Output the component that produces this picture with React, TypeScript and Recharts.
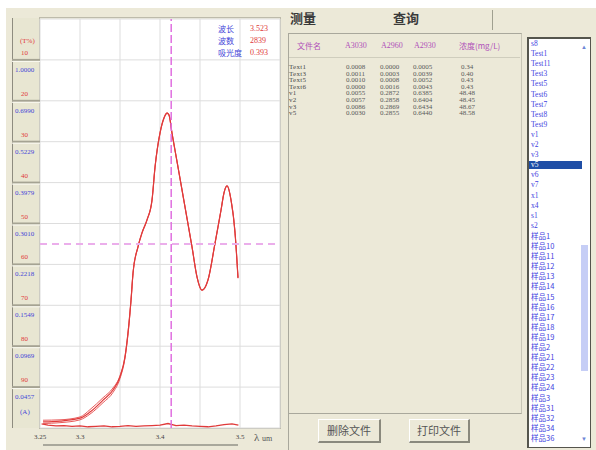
import React from "react";
import { CartesianGrid, Line, LineChart, ReferenceLine, XAxis, YAxis } from "recharts";

// wavelength (um) and transmittance (%)
const wlScan = [3.2538, 3.275, 3.3, 3.3125, 3.3288, 3.3413, 3.35, 3.3563, 3.3613, 3.3638, 3.3663, 3.3725, 3.3775, 3.3838, 3.39, 3.3938, 3.4, 3.405, 3.4088, 3.4113, 3.415, 3.4225, 3.4313, 3.44, 3.4463, 3.4525, 3.46, 3.4688, 3.4763, 3.48, 3.4838, 3.4888, 3.4938, 3.4975];
const tScan1 = [98.5, 98.3, 97.6, 96.1, 93.2, 90.7, 87.5, 82.6, 74.3, 68.7, 62.1, 55.7, 52.3, 49.1, 44.3, 36.2, 27.9, 24.2, 23.0, 23.5, 27.9, 36.2, 46.0, 55.7, 63.1, 66.3, 63.8, 54.8, 46.7, 42.5, 40.8, 44.3, 52.3, 63.3];
const tScan2 = [98.1, 98.0, 97.3, 95.5, 92.6, 90.2, 87.2, 82.4, 74.1, 68.6, 62.0, 55.8, 52.4, 49.2, 44.4, 36.3, 28.0, 24.3, 23.1, 23.6, 28.0, 36.3, 46.1, 55.8, 63.2, 66.4, 63.9, 54.9, 46.8, 42.6, 40.9, 44.4, 52.4, 63.4];
const tScan3 = [98.9, 98.7, 98.0, 96.6, 93.8, 91.3, 87.9, 82.8, 74.5, 68.8, 62.2, 55.6, 52.2, 49.0, 44.2, 36.1, 27.8, 24.1, 22.9, 23.4, 27.8, 36.1, 45.9, 55.6, 63.0, 66.2, 63.7, 54.7, 46.6, 42.4, 40.7, 44.2, 52.2, 63.2];

const wlBase = [3.252, 3.26, 3.27, 3.28, 3.29, 3.3, 3.31, 3.32, 3.33, 3.34, 3.35, 3.36, 3.37, 3.38, 3.39, 3.4, 3.41, 3.42, 3.43, 3.44, 3.45, 3.46, 3.47, 3.48, 3.49, 3.498];
const tBase = [99.0, 99.3, 99.5, 99.4, 99.6, 99.5, 99.7, 99.6, 99.5, 99.7, 99.6, 99.4, 99.6, 99.5, 99.4, 99.3, 98.9, 99.4, 99.3, 99.5, 99.6, 99.7, 99.5, 99.2, 99.0, 99.3];

const xTicks = [3.25, 3.3, 3.35, 3.4, 3.45, 3.5];
const xLabels = ["3.25", "3.3", "", "3.4", "", "3.5"];
const tTicks = [0, 10, 20, 30, 40, 50, 60, 70, 80, 90, 100];
const tLabels = ["", "10", "20", "30", "40", "50", "60", "70", "80", "90", ""];
const absLabels = ["", "1.0000", "0.6990", "0.5229", "0.3979", "0.3010", "0.2218", "0.1549", "0.0969", "0.0457", ""];

const cursorWl = 3.414;
const cursorT = 55;

const readoutNames = ["波长", "波数", "吸光度"];
const readoutValues = ["3.523", "2839", "0.393"];

const colHeaders = ["文件名", "A3030", "A2960", "A2930", "浓度(mg/L)"];
const fileNames = ["Text1", "Text3", "Text5", "Text6", "v1", "v2", "v3", "v5"];
const a3030 = ["0.0008", "0.0011", "0.0010", "0.0000", "0.0055", "0.0057", "0.0086", "0.0030"];
const a2960 = ["0.0000", "0.0003", "0.0008", "0.0016", "0.2872", "0.2858", "0.2869", "0.2855"];
const a2930 = ["0.0005", "0.0039", "0.0052", "0.0043", "0.6385", "0.6404", "0.6434", "0.6440"];
const conc = ["0.34", "0.40", "0.43", "0.43", "48.48", "48.45", "48.67", "48.58"];

const listItems = ["s8", "Test1", "Test11", "Test3", "Test5", "Test6", "Test7", "Test8", "Test9", "v1", "v2", "v3", "v5", "v6", "v7", "x1", "x4", "s1", "s2", "样品1", "样品10", "样品11", "样品12", "样品13", "样品14", "样品15", "样品16", "样品17", "样品18", "样品19", "样品2", "样品21", "样品22", "样品23", "样品24", "样品3", "样品31", "样品32", "样品34", "样品36"];
const selectedItem = "v5";

const zip = (wl: number[], t: number[]) => wl.map((um, i) => ({ um, t: t[i] }));
const scan1 = zip(wlScan, tScan1);
const scan2 = zip(wlScan, tScan2);
const scan3 = zip(wlScan, tScan3);
const base = zip(wlBase, tBase);

const BEIGE = "#ece9d8";
const RED = "#e03a3a";
const BLUE = "#4646d8";
const SERIF = "'Liberation Serif', serif";
const CJK = "'Noto Sans CJK SC', sans-serif";

function TTick(props: any) {
  const { y, payload } = props;
  const i = tTicks.indexOf(payload.value);
  return (
    <g fontFamily={SERIF} fontSize={7}>
      {i > 0 && i < tTicks.length - 1 && (
        <>
          <line x1={12} x2={40} y1={y} y2={y} stroke="#a5a393" strokeWidth={2} />
          <line x1={12} x2={40} y1={y + 1.5} y2={y + 1.5} stroke="#fbfaf2" strokeWidth={1} />
        </>
      )}
      {i === 0 && (
        <text x={20} y={y + 24} fill={RED}>(T%)</text>
      )}
      {tLabels[i] && (
        <text x={21} y={y - 5} fill={RED}>{tLabels[i]}</text>
      )}
      {absLabels[i] && (
        <text x={15} y={y + 12} fill={BLUE}>{absLabels[i]}</text>
      )}
      {i === tTicks.length - 1 && (
        <text x={20} y={y - 14} fill={BLUE}>(A)</text>
      )}
    </g>
  );
}

function WlTick(props: any) {
  const { x, y, payload } = props;
  const label = xLabels[xTicks.indexOf(payload.value)];
  if (!label) return null;
  return (
    <text x={x} y={y} dy={3} textAnchor="middle" fontFamily={SERIF} fontSize={7} fill="#444">
      {label}
    </text>
  );
}

function Spectrum() {
  return (
    <LineChart width={286} height={450} margin={{ top: 19, right: 6, bottom: 2, left: 12 }}>
      <CartesianGrid stroke="#dddddd" fill="#ffffff" />
      <XAxis
        type="number"
        dataKey="um"
        domain={[3.25, 3.55]}
        ticks={xTicks}
        allowDataOverflow
        height={20}
        axisLine={false}
        tickLine={false}
        tick={<WlTick />}
      />
      <YAxis
        type="number"
        dataKey="t"
        domain={[0, 100]}
        ticks={tTicks}
        reversed
        width={28}
        axisLine={false}
        tickLine={false}
        tick={<TTick />}
      />
      <Line data={base} dataKey="t" type="linear" stroke={RED} strokeWidth={1.3} dot={false} isAnimationActive={false} />
      <Line data={scan3} dataKey="t" type="monotone" stroke="#e85a5a" strokeWidth={1} dot={false} isAnimationActive={false} />
      <Line data={scan2} dataKey="t" type="monotone" stroke="#e85a5a" strokeWidth={1} dot={false} isAnimationActive={false} />
      <Line data={scan1} dataKey="t" type="monotone" stroke={RED} strokeWidth={1.2} dot={false} isAnimationActive={false} />
      <ReferenceLine x={cursorWl} stroke="#e070e0" strokeWidth={1.5} strokeDasharray="8 3" />
      <ReferenceLine y={cursorT} stroke="#ebaeeb" strokeWidth={2} strokeDasharray="7 5" />
    </LineChart>
  );
}

const abs = (left: number, top: number, extra: React.CSSProperties = {}): React.CSSProperties => ({
  position: "absolute",
  left,
  top,
  whiteSpace: "nowrap",
  ...extra,
});

export default function App() {
  const rowTop = 64;
  const rowH = 6.6;
  return (
    <div style={{ position: "absolute", left: 0, top: 0, width: 596, height: 450, background: "#ffffff", overflow: "hidden" }}>
      <div style={{ position: "absolute", left: 6, top: 8, right: 0, bottom: 0, background: BEIGE }} />
      {/* axis column */}
      <div style={{ position: "absolute", left: 12, top: 18, width: 28, height: 410, background: "#e8e6d2", borderLeft: "1px solid #8e8c80" }} />
      <div style={{ position: "absolute", left: 39, top: 17, width: 240, height: 410, border: "1px solid #bdbbab" }} />
      <div style={{ position: "absolute", left: 0, top: 0 }}>
        <Spectrum />
      </div>

      {/* cursor readout */}
      {readoutNames.map((n, i) => (
        <div key={n} style={abs(218, 24 + i * 12, { fontFamily: CJK, fontSize: 8, lineHeight: "10px", color: BLUE })}>{n}</div>
      ))}
      {readoutValues.map((v, i) => (
        <div key={v} style={abs(250, 24 + i * 12, { fontFamily: SERIF, fontSize: 8, lineHeight: "10px", color: RED })}>{v}</div>
      ))}

      <div style={abs(254, 430, { fontFamily: SERIF, fontSize: 11, lineHeight: "14px", color: "#555" })}>
        λ <span style={{ fontSize: 8 }}>um</span>
      </div>
      <div style={{ position: "absolute", left: 43, top: 444, width: 195, height: 2, background: "#a9a89c" }} />
      <div style={{ position: "absolute", left: 288, top: 33, width: 1, height: 417, background: "#a9a89c" }} />

      {/* tabs */}
      <div style={abs(290, 9, { fontFamily: CJK, fontSize: 13, fontWeight: 700, color: "#3a3a3a", lineHeight: "18px" })}>测量</div>
      <div style={abs(393, 9, { fontFamily: CJK, fontSize: 13, fontWeight: 700, color: "#3a3a3a", lineHeight: "18px" })}>查询</div>
      <div style={{ position: "absolute", left: 492, top: 10, width: 1, height: 20, background: "#a0a090" }} />

      {/* table */}
      <div style={{ position: "absolute", left: 288, top: 33, width: 233, height: 379, borderTop: "1px solid #a9a89c", borderRight: "1px solid #c8c6b6", borderBottom: "1px solid #a9a89c" }} />
      <div style={{ position: "absolute", left: 289, top: 57, width: 231, height: 1, background: "#cfcdbd" }} />
      {colHeaders.map((h, i) => (
        <div
          key={h}
          style={abs([297, 345, 381, 414, 459][i], 41, { fontFamily: i === 0 || i === 4 ? CJK : SERIF, fontSize: 8, color: "#b050b8", lineHeight: "10px" })}
        >
          {h}
        </div>
      ))}
      {fileNames.map((f, r) => (
        <React.Fragment key={f}>
          <div style={abs(289, rowTop + r * rowH, { fontFamily: SERIF, fontSize: 7, lineHeight: `${rowH}px`, color: "#4a4a4a", letterSpacing: 0.3 })}>{f}</div>
          {[a3030[r], a2960[r], a2930[r], conc[r]].map((v, c) => (
            <div
              key={c}
              style={abs([346, 380, 413, 455][c], rowTop + r * rowH, { width: 24, textAlign: c === 3 ? "center" : "left", fontFamily: SERIF, fontSize: 7, lineHeight: `${rowH}px`, color: "#5a5a5a" })}
            >
              {v}
            </div>
          ))}
        </React.Fragment>
      ))}

      {/* buttons */}
      {["删除文件", "打印文件"].map((b, i) => (
        <div
          key={b}
          style={{
            position: "absolute",
            left: i === 0 ? 318 : 409,
            top: 419,
            width: i === 0 ? 60 : 58,
            height: 21,
            borderTop: "1px solid #ffffff",
            borderLeft: "1px solid #ffffff",
            borderRight: "2px solid #8a897d",
            borderBottom: "2px solid #8a897d",
            fontFamily: CJK,
            fontSize: 11,
            lineHeight: "21px",
            textAlign: "center",
            color: "#555",
          }}
        >
          {b}
        </div>
      ))}

      {/* file list */}
      <div style={{ position: "absolute", left: 527, top: 37, width: 61, height: 408, background: "#ffffff", border: "1px solid #55554d", borderTopWidth: 2, borderLeftWidth: 2, overflow: "hidden" }}>
        {listItems.map((it, i) => (
          <div
            key={it}
            style={abs(0, 1 + i * 10.1, {
              width: 51,
              height: 8,
              paddingLeft: 2,
              fontFamily: /样/.test(it) ? CJK : SERIF,
              fontSize: 7.5,
              lineHeight: "8px",
              color: it === selectedItem ? "#ffffff" : "#3f3fe0",
              background: it === selectedItem ? "#1f4ea6" : "transparent",
            })}
          >
            {it}
          </div>
        ))}
        <div style={abs(52, 4, { fontSize: 6, color: "#6e86d6", lineHeight: "8px" })}>▲</div>
        <div style={{ position: "absolute", left: 52, top: 206, width: 7, height: 126, background: "#c6cef6" }} />
        <div style={abs(52, 396, { fontSize: 6, color: "#6e86d6", lineHeight: "8px" })}>▼</div>
      </div>
    </div>
  );
}
